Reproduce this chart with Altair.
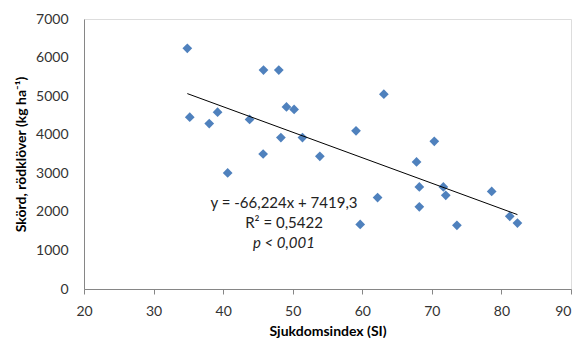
import altair as alt
import pandas as pd

# Scatter data: disease index (SI) vs red clover yield (kg/ha)
si = [34.85, 35.2, 38.0, 39.2, 40.65, 43.8, 45.8, 48.0, 45.75, 48.3, 49.1, 50.2,
      51.4, 53.9, 59.1, 63.1, 67.8, 70.35, 68.2, 62.2, 68.2, 59.7, 71.65, 72.0,
      73.6, 78.6, 81.2, 82.3]
yield_kg = [6240, 4455, 4290, 4585, 3010, 4395, 5675, 5675, 3500, 3925, 4720, 4655,
            3925, 3440, 4100, 5050, 3295, 3830, 2645, 2370, 2130, 1675, 2645, 2430,
            1650, 2530, 1885, 1710]

# Annotation text and anchor positions (data units)
ann_text = ["y = -66,224x + 7419,3", "R\u00b2 = 0,5422"]
ann_x = [48.75, 48.75]
ann_y = [2221, 1709]
p_text = ["p < 0,001"]
p_x = [48.75]
p_y = [1190]

x_ticks = [20, 30, 40, 50, 60, 70, 80, 90]
y_ticks = [0, 1000, 2000, 3000, 4000, 5000, 6000, 7000]

df = pd.DataFrame({"si": si, "y": yield_kg})
ann = pd.DataFrame({"t": ann_text, "x": ann_x, "y": ann_y})
pdf = pd.DataFrame({"t": p_text, "x": p_x, "y": p_y})

FONT = "Lato"
xscale = alt.Scale(domain=[20, 90], nice=False, zero=False)
yscale = alt.Scale(domain=[0, 7000], nice=False)

xax = alt.Axis(values=x_ticks, title="Sjukdomsindex (SI)", format="d",
               grid=False, tickSize=5, labelPadding=10, titlePadding=6,
               labelOverlap=False,
               labelAlign={"expr": "datum.value == 90 ? 'right' : 'center'"},
               domainColor="#868686", tickColor="#868686", labelColor="#333333",
               labelFont=FONT, labelFontSize=14, titleFont=FONT, titleFontSize=14,
               titleFontWeight="bold", titleColor="#000000")
yax = alt.Axis(values=y_ticks, title="Skörd, rödklöver (kg ha\u207b\u00b9)", format="d",
               grid=False, ticks=False, tickSize=0, labelPadding=16, titlePadding=7,
               labelOverlap=False,
               domainColor="#868686", labelColor="#333333",
               labelFont=FONT, labelFontSize=14, titleFont=FONT, titleFontSize=14,
               titleFontWeight="bold", titleColor="#000000")

X = lambda f: alt.X(f, scale=xscale, axis=xax)
Y = lambda f: alt.Y(f, scale=yscale, axis=yax)

base = alt.Chart(df)

points = base.mark_point(shape="diamond", filled=True, size=95, color="#4F81BD",
                         opacity=1).encode(x=X("si:Q"), y=Y("y:Q"))

trend = base.transform_regression("si", "y").mark_line(
    color="#000000", strokeWidth=1).encode(x=X("si:Q"), y=Y("y:Q"))

txt = alt.Chart(ann).mark_text(font=FONT, fontSize=15, color="#222222", align="center",
                               baseline="middle").encode(
    x=X("x:Q"), y=Y("y:Q"), text="t:N")

ptxt = alt.Chart(pdf).mark_text(font=FONT, fontSize=15, color="#222222", align="center",
                                baseline="middle", fontStyle="italic").encode(
    x=X("x:Q"), y=Y("y:Q"), text="t:N")

chart = alt.layer(points, trend, txt, ptxt).properties(
    width=487, height=270,
    autosize=alt.AutoSizeParams(type="none"),
    padding={"left": 76, "top": 11, "right": 1, "bottom": 49},
).configure_view(stroke=None).configure(background="white")

chart.save("out.html", embed_options={"renderer": "svg", "actions": False})
